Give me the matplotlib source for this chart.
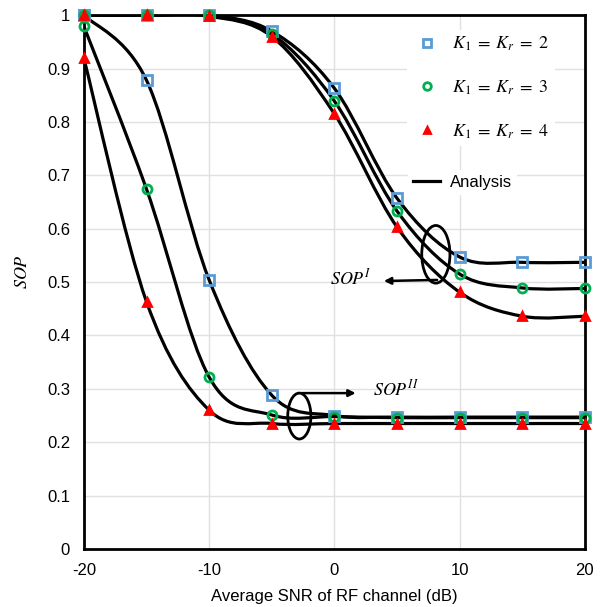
"""SOP versus average SNR of the RF channel, analysis vs. simulation markers."""

import matplotlib
matplotlib.use("Agg")
import matplotlib.pyplot as plt
import numpy as np
from matplotlib.lines import Line2D
from matplotlib.patches import Ellipse, PathPatch
from matplotlib.path import Path

plt.rcParams["font.family"] = ["Liberation Sans", "DejaVu Sans"]
plt.rcParams["mathtext.fontset"] = "stix"

# -- data ---------------------------------------------------------------------
snr = [-20, -15, -10, -5, 0, 5, 10, 15, 20]

sop1_k2 = [1.0, 1.0, 1.0, 0.970, 0.863, 0.657, 0.547, 0.537, 0.537]
sop1_k3 = [1.0, 1.0, 1.0, 0.965, 0.839, 0.633, 0.515, 0.489, 0.488]
sop1_k4 = [1.0, 1.0, 0.998, 0.960, 0.815, 0.603, 0.481, 0.436, 0.436]

sop2_k2 = [1.0, 0.878, 0.504, 0.288, 0.250, 0.247, 0.247, 0.247, 0.247]
sop2_k3 = [0.979, 0.674, 0.322, 0.251, 0.248, 0.246, 0.246, 0.246, 0.246]
sop2_k4 = [0.919, 0.463, 0.260, 0.235, 0.235, 0.235, 0.235, 0.235, 0.235]

labels = [r"$K_1\;=\;K_r\;=\;2$", r"$K_1\;=\;K_r\;=\;3$", r"$K_1\;=\;K_r\;=\;4$"]
x_ticks = [-20, -10, 0, 10, 20]
y_ticks = [round(0.1 * i, 1) for i in range(11)]

BLUE = "#5B9BD5"
GREEN = "#00B050"
RED = "#FF0000"


def smooth_path(xs, ys):
    """Excel-like smoothed line: Catmull-Rom segments as cubic Beziers."""
    pts = np.column_stack([xs, ys]).astype(float)
    n = len(pts)
    verts = [pts[0]]
    codes = [Path.MOVETO]
    for i in range(n - 1):
        p0 = pts[max(i - 1, 0)]
        p1 = pts[i]
        p2 = pts[i + 1]
        p3 = pts[min(i + 2, n - 1)]
        c1 = p1 + (p2 - p0) / 6.0
        c2 = p2 - (p3 - p1) / 6.0
        verts += [c1, c2, p2]
        codes += [Path.CURVE4] * 3
    return Path(verts, codes)


def _frameless(leg):
    leg.get_frame().set_edgecolor("none")
    leg.get_frame().set_facecolor("white")
    leg.get_frame().set_alpha(1)


fig = plt.figure(figsize=(6.08, 6.07), dpi=100)
ax = fig.add_axes([0.138, 0.0956, 0.824, 0.8794])

for ys in (sop1_k2, sop1_k3, sop1_k4, sop2_k2, sop2_k3, sop2_k4):
    ax.add_patch(PathPatch(smooth_path(snr, ys), fill=False, edgecolor="black",
                           lw=2.3, zorder=3))

mk = dict(ls="none", zorder=4, clip_on=False)
handles = []
for s1, s2, color, marker, size in (
    (sop1_k2, sop2_k2, BLUE, "s", 6.5),
    (sop1_k3, sop2_k3, GREEN, "o", 6.5),
    (sop1_k4, sop2_k4, RED, "^", 5.5),
):
    face = RED if marker == "^" else "none"
    for ys in (s1, s2):
        ax.plot(snr, ys, marker=marker, ms=size, mew=2, mec=color, mfc=face, **mk)
    handles.append(Line2D([], [], marker=marker, ms=size - 1, mew=2, mec=color,
                          mfc=face, ls="none"))

# annotations
ax.add_patch(Ellipse((8.1, 0.552), 2.25, 0.108, angle=0, fill=False,
                     edgecolor="black", lw=2, zorder=5))
ax.annotate("", xy=(3.95, 0.502), xytext=(8.2, 0.504),
            arrowprops=dict(arrowstyle="-|>", color="black", lw=1.8,
                            mutation_scale=10, shrinkA=0, shrinkB=0))
ax.text(1.3, 0.507, r"$SOP^{I}$", fontsize=13, ha="center", va="center")

ax.add_patch(Ellipse((-2.8, 0.249), 1.85, 0.086, fill=False,
                     edgecolor="black", lw=2, zorder=5))
ax.annotate("", xy=(1.7, 0.292), xytext=(-2.6, 0.292),
            arrowprops=dict(arrowstyle="-|>", color="black", lw=1.8,
                            mutation_scale=10, shrinkA=0, shrinkB=0))
ax.text(4.9, 0.298, r"$SOP^{II}$", fontsize=13, ha="center", va="center")

leg1 = ax.legend(handles, labels, loc="upper right", bbox_to_anchor=(0.958, 0.99),
                 frameon=True, fontsize=13, labelspacing=1.4, handlelength=1.6,
                 handletextpad=0.6, borderpad=0.3)
_frameless(leg1)
ax.add_artist(leg1)
leg2 = ax.legend([Line2D([], [], color="black", lw=2.3)], ["Analysis"],
                 loc="center left", bbox_to_anchor=(0.631, 0.686), frameon=True,
                 fontsize=12, handlelength=1.6, handletextpad=0.6, borderpad=0.3)
_frameless(leg2)

ax.set_xlim(-20, 20)
ax.set_ylim(0, 1)
ax.set_xticks(x_ticks)
ax.set_yticks(y_ticks)
ax.set_xticklabels([str(v) for v in x_ticks])
ax.set_yticklabels(["0" if v == 0 else ("1" if v == 1 else f"{v:.1f}") for v in y_ticks])
ax.tick_params(length=0, labelsize=12, pad=10)
ax.grid(True, color="#e0e0e0", lw=1)
ax.set_axisbelow(True)
for side in ax.spines.values():
    side.set_linewidth(2)
    side.set_color("black")

ax.set_xlabel("Average SNR of RF channel (dB)", fontsize=12, labelpad=8)
ax.set_ylabel(r"$SOP$", fontsize=13)
ax.yaxis.set_label_coords(-0.105, 0.52)

fig.savefig("out.png", dpi=100)
